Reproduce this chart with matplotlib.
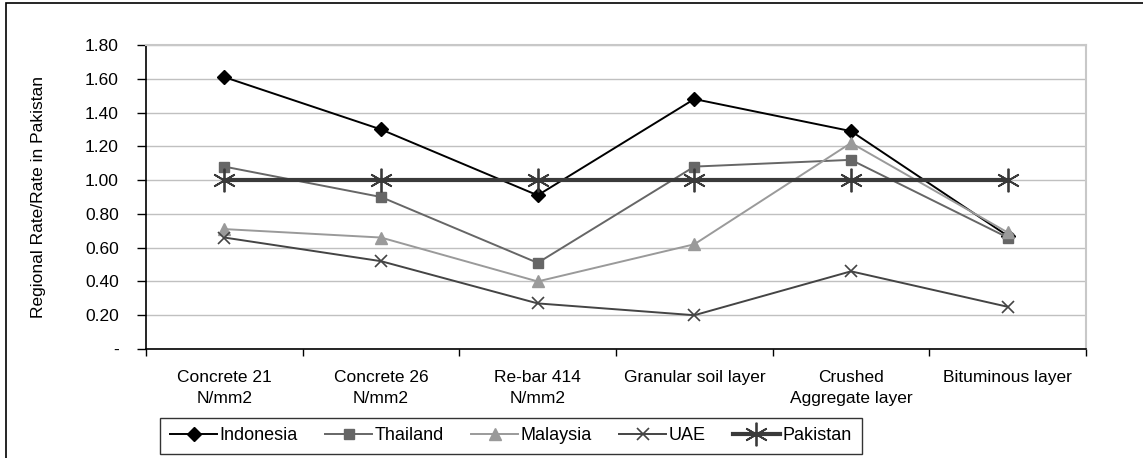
import matplotlib
matplotlib.use("Agg")
import matplotlib.pyplot as plt
from matplotlib.patches import Rectangle

plt.rcParams['font.family'] = ['Liberation Sans', 'DejaVu Sans']

categories = ["Concrete 21\nN/mm2", "Concrete 26\nN/mm2", "Re-bar 414\nN/mm2",
              "Granular soil layer", "Crushed\nAggregate layer", "Bituminous layer"]
indonesia = [1.61, 1.30, 0.91, 1.48, 1.29, 0.67]
thailand = [1.08, 0.90, 0.51, 1.08, 1.12, 0.66]
malaysia = [0.71, 0.66, 0.40, 0.62, 1.22, 0.69]
uae = [0.66, 0.52, 0.27, 0.20, 0.46, 0.25]
pakistan = [1.00, 1.00, 1.00, 1.00, 1.00, 1.00]
y_ticks = [0.0, 0.2, 0.4, 0.6, 0.8, 1.0, 1.2, 1.4, 1.6, 1.8]
y_labels = ["-", "0.20", "0.40", "0.60", "0.80", "1.00", "1.20", "1.40", "1.60", "1.80"]

fig = plt.figure(figsize=(11.43, 4.58), dpi=100)
ax = fig.add_axes([146 / 1143, 1 - 349 / 458, 940 / 1143, 304 / 458])

# outer chart frame
fig.patches.append(Rectangle((6 / 1143, -0.01), 1.2, 1 - 3 / 458 + 0.01,
                             transform=fig.transFigure, fill=False,
                             edgecolor="black", linewidth=1.2))

x = list(range(len(categories)))
series = [
    ("Indonesia", indonesia, dict(color="#000000", marker="D", markersize=7, lw=1.4)),
    ("Thailand", thailand, dict(color="#666666", marker="s", markersize=7.5, lw=1.4)),
    ("Malaysia", malaysia, dict(color="#9a9a9a", marker="^", markersize=8.5, lw=1.4)),
    ("UAE", uae, dict(color="#444444", marker="x", markersize=8.5, mew=1.2, lw=1.4)),
    ("Pakistan", pakistan, dict(color="#3a3a3a", marker=(6, 2, 0), markersize=17,
                                mew=1.3, lw=3.0)),
]
for name, vals, style in series:
    ax.plot(x, vals, label=name, clip_on=False, **style)

ax.set_xlim(-0.5, len(categories) - 0.5)
ax.set_ylim(0, 1.8)
ax.set_yticks(y_ticks)
ax.set_yticklabels(y_labels, fontsize=12.5)
ax.yaxis.grid(True, color="#c0c0c0", linewidth=1)
ax.set_axisbelow(True)

ax.set_xticks(x)
ax.set_xticklabels(categories, fontsize=12.5, linespacing=1.5)
ax.tick_params(axis="x", length=0, pad=15)
ax.set_xticks([i - 0.5 for i in range(len(categories) + 1)], minor=True)
ax.tick_params(axis="x", which="minor", length=5, width=1, direction="out")
ax.tick_params(axis="y", length=6.5, width=1, direction="out", pad=13)

for side in ["top", "right"]:
    ax.spines[side].set_color("#c8c8c8")
    ax.spines[side].set_linewidth(1.5)
for side in ["left", "bottom"]:
    ax.spines[side].set_color("black")
    ax.spines[side].set_linewidth(1.2)

ax.set_ylabel("Regional Rate/Rate in Pakistan", fontsize=12.5, labelpad=28)

leg = fig.legend(loc="center", bbox_to_anchor=(511 / 1143, 1 - 436 / 458), ncol=5,
                 frameon=True, fancybox=False, fontsize=13,
                 handlelength=2.6, columnspacing=1.5, handletextpad=0.15,
                 borderpad=0.55)
leg.get_frame().set_edgecolor("black")
leg.get_frame().set_linewidth(1)

fig.savefig("out.png", dpi=100)
